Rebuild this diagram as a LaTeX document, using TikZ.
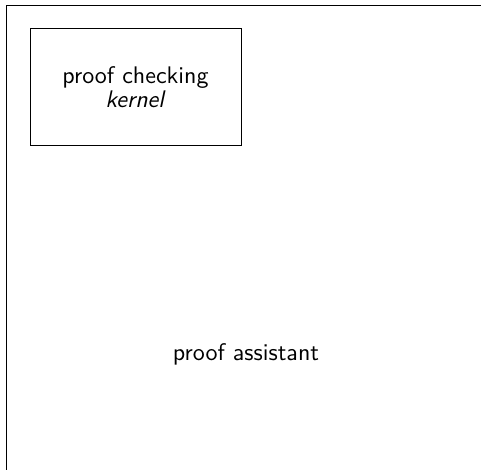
\documentclass[tikz,border=0pt]{standalone}
\usepackage{tikz}
\usetikzlibrary{positioning}

\tikzset{
  layerbox/.style={draw, align=center, minimum width=87.9pt, minimum height=49.1pt, inner sep=0pt},
}

\begin{document}
\begin{tikzpicture}[x=1pt,y=-1pt,font=\sffamily]
  \useasboundingbox (0,0) rectangle (200.4,195.8);
  \clip (0,0) rectangle (200.4,195.8);
  % outer frame runs past the page on the right and below
  \draw (2.9,2.1) rectangle (230,230);
  \node[layerbox] (kernel) at (56.45,36.25) {proof checking\\[-2pt]\textit{kernel}};
  \node (assistant) at (102.5,147.6) {proof assistant};
\end{tikzpicture}
\end{document}
